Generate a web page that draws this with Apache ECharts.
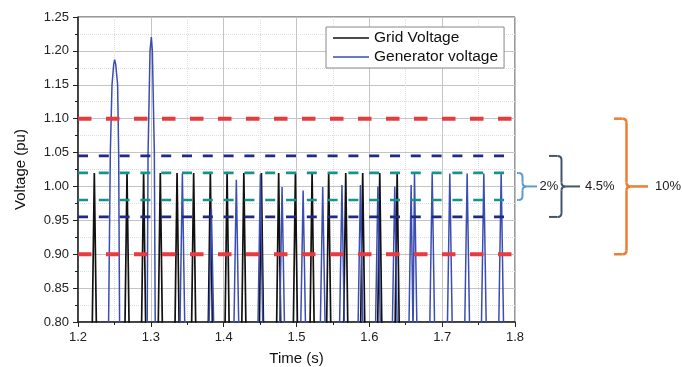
<!DOCTYPE html>
<html>
<head>
<meta charset="utf-8">
<title>Grid and generator voltage</title>
<script src="https://cdn.jsdelivr.net/npm/echarts@6/dist/echarts.min.js"></script>
<style>
  html, body { margin: 0; padding: 0; background: #fff; }
  #chart { width: 682px; height: 367px; }
</style>
</head>
<body>
<div id="chart"></div>
<script>
// [time (s), voltage (pu)] - samples below 0.80 fall off the plot
const gridVoltage = [
  [1.2194, 0.78], [1.2224, 1.02], [1.2254, 0.78],
  [1.2643, 0.78], [1.2673, 1.02], [1.2703, 0.78],
  [1.2871, 0.78], [1.2901, 1.02], [1.2931, 0.78],
  [1.3100, 0.78], [1.3130, 1.02], [1.3160, 0.78],
  [1.3330, 0.78], [1.3360, 1.02], [1.3390, 0.78],
  [1.3558, 0.78], [1.3588, 1.02], [1.3618, 0.78],
  [1.3787, 0.78], [1.3817, 1.02], [1.3847, 0.78],
  [1.4017, 0.78], [1.4047, 1.02], [1.4077, 0.78],
  [1.4247, 0.78], [1.4277, 1.02], [1.4307, 0.78],
  [1.4488, 0.78], [1.4518, 1.02], [1.4548, 0.78],
  [1.4725, 0.78], [1.4755, 1.02], [1.4785, 0.78],
  [1.4955, 0.78], [1.4985, 1.02], [1.5015, 0.78],
  [1.5184, 0.78], [1.5214, 1.02], [1.5244, 0.78],
  [1.5412, 0.78], [1.5442, 1.02], [1.5472, 0.78],
  [1.5646, 0.78], [1.5676, 1.02], [1.5706, 0.78],
  [1.5879, 0.78], [1.5909, 1.02], [1.5939, 0.78],
  [1.6113, 0.78], [1.6143, 1.02], [1.6173, 0.78],
  [1.6352, 0.78], [1.6382, 1.02], [1.6412, 0.78]
]

const generatorVoltage = [
  [1.2412, 0.78], [1.2420, 0.80], [1.2444, 1.05], [1.2467, 1.15], [1.2490, 1.18], [1.2503, 1.187],
  [1.2518, 1.18], [1.2544, 1.15], [1.2558, 1.05], [1.2571, 0.80], [1.2578, 0.78],
  [1.2944, 0.78], [1.2950, 0.80], [1.2962, 1.05], [1.2980, 1.15], [1.2989, 1.20], [1.3007, 1.2205],
  [1.3021, 1.20], [1.3030, 1.15], [1.3048, 1.05], [1.3060, 0.80], [1.3066, 0.78],
  [1.3398, 0.78], [1.3433, 1.019], [1.3468, 0.78],
  [1.3796, 0.78], [1.3831, 0.967], [1.3866, 0.78],
  [1.4139, 0.78], [1.4174, 1.010], [1.4209, 0.78],
  [1.4469, 0.78], [1.4504, 1.018], [1.4539, 0.78],
  [1.4767, 0.78], [1.4802, 0.999], [1.4837, 0.78],
  [1.5056, 0.78], [1.5091, 0.994], [1.5126, 0.78],
  [1.5325, 0.78], [1.5360, 0.999], [1.5395, 0.78],
  [1.5589, 0.78], [1.5624, 1.002], [1.5659, 0.78],
  [1.5843, 0.78], [1.5878, 1.002], [1.5913, 0.78],
  [1.6083, 0.78], [1.6118, 1.000], [1.6153, 0.78],
  [1.6314, 0.78], [1.6349, 1.000], [1.6384, 0.78],
  [1.6542, 0.78], [1.6574, 1.002], [1.6600, 0.78],
  [1.6602, 0.78], [1.6620, 1.019], [1.6655, 0.78],
  [1.6828, 0.78], [1.6863, 1.019], [1.6898, 0.78],
  [1.7070, 0.78], [1.7105, 1.019], [1.7140, 0.78],
  [1.7308, 0.78], [1.7343, 1.019], [1.7378, 0.78],
  [1.7537, 0.78], [1.7572, 1.019], [1.7607, 0.78],
  [1.7775, 0.78], [1.7810, 1.019], [1.7845, 0.78]
]

// tolerance bands (pu): upper, lower
const band10 = [1.10, 0.90]
const band45 = [1.045, 0.955]
const band2 = [1.02, 0.98]
const bandLabels = ['2%', '4.5%', '10%']
const bandStart = 1.2
const bandEnd10 = 1.796
const bandEnd = 1.787

const xMin = 1.2, xMax = 1.8, xStep = 0.1
const yMin = 0.80, yMax = 1.25, yStep = 0.05

const font = 'Liberation Sans, Arial, sans-serif'

function limitSeries(levels, end, color, width, dash) {
  return levels.map(v => ({
    type: 'line',
    data: [[bandStart, v], [end, v]],
    symbol: 'none',
    silent: true,
    lineStyle: { color, width, type: dash },
    z: 3
  }))
}

const option = {
  animation: false,
  textStyle: { fontFamily: font },
  grid: {
    left: 78, right: 167, top: 17, bottom: 45,
    outerBoundsMode: 'none',
    show: true, borderColor: '#333', borderWidth: 1
  },
  legend: {
    data: ['Grid Voltage', 'Generator voltage'],
    orient: 'vertical',
    left: 326, top: 27,
    padding: [3, 6, 3, 7],
    itemGap: 3,
    icon: 'rect',
    itemWidth: 36, itemHeight: 1.5,
    backgroundColor: '#fff',
    borderColor: '#888', borderWidth: 1,
    textStyle: { fontSize: 15.5, lineHeight: 16, color: '#111', fontFamily: font }
  },
  xAxis: {
    type: 'value',
    min: xMin, max: xMax, interval: xStep,
    name: 'Time (s)', nameLocation: 'middle', nameGap: 29,
    nameTextStyle: { fontSize: 15, color: '#111' },
    axisLine: { onZero: false, lineStyle: { color: '#222', width: 1.5 } },
    axisTick: { length: 5, lineStyle: { color: '#222' } },
    minorTick: { show: true, splitNumber: 2, length: 3, lineStyle: { color: '#222' } },
    axisLabel: { fontSize: 13, color: '#222', margin: 9, formatter: v => v.toFixed(1) },
    splitLine: { lineStyle: { color: '#c4c4c4' } },
    minorSplitLine: { show: true, lineStyle: { color: '#dedede', type: 'dotted' } }
  },
  yAxis: {
    type: 'value',
    min: yMin, max: yMax, interval: yStep,
    name: 'Voltage (pu)', nameLocation: 'middle', nameGap: 50,
    nameTextStyle: { fontSize: 15, color: '#111' },
    axisLine: { show: true, lineStyle: { color: '#222', width: 1.5 } },
    axisTick: { show: true, length: 5, lineStyle: { color: '#222' } },
    minorTick: { show: true, splitNumber: 2, length: 3, lineStyle: { color: '#222' } },
    axisLabel: { fontSize: 13, color: '#222', margin: 9, formatter: v => v.toFixed(2) },
    splitLine: { lineStyle: { color: '#c4c4c4' } },
    minorSplitLine: { show: true, lineStyle: { color: '#dedede', type: 'dotted' } }
  },
  series: [
    {
      name: 'Grid Voltage',
      type: 'line',
      data: gridVoltage,
      symbol: 'none',
      color: '#111',
      lineStyle: { color: '#111', width: 1.7 }
    },
    {
      name: 'Generator voltage',
      type: 'line',
      data: generatorVoltage,
      symbol: 'none',
      color: '#3a4db2',
      lineStyle: { color: '#3a4db2', width: 1.5 }
    },
    ...limitSeries(band10, bandEnd10, '#e63b3f', 4, [13.5, 14.5]),
    ...limitSeries(band45, bandEnd, '#1f2a86', 2.7, [10, 10.8]),
    ...limitSeries(band2, bandEnd, '#17938b', 2.7, [10, 10.8])
  ]
}

const chart = echarts.init(document.getElementById('chart'))
chart.setOption(option)

// curly brackets to the right of the plot
const yPx = v => chart.convertToPixel({ gridIndex: 0 }, [xMax, v])[1]

function brace(xl, xs, xn, top, bottom, color, width) {
  const r = 4
  const y1 = yPx(top), y2 = yPx(bottom), ym = yPx(1.0)
  const style = { stroke: color, lineWidth: width, fill: null }
  const line = (x1, ya, x2, yb) => ({ type: 'line', shape: { x1, y1: ya, x2, y2: yb }, style })
  const curve = (x1, ya, cx, cy, x2, yb) => ({
    type: 'bezierCurve', shape: { x1, y1: ya, cpx1: cx, cpy1: cy, x2, y2: yb }, style
  })
  return [
    line(xl, y1, xs - r, y1),
    curve(xs - r, y1, xs, y1, xs, y1 + r),
    line(xs, y1 + r, xs, ym - r),
    curve(xs, ym - r, xs, ym, xs + r, ym),
    line(xs + r, ym, xn, ym),
    curve(xs + r, ym, xs, ym, xs, ym + r),
    line(xs, ym + r, xs, y2 - r),
    curve(xs, y2 - r, xs, y2, xs - r, y2),
    line(xs - r, y2, xl, y2)
  ]
}

function label(text, x) {
  return {
    type: 'text',
    style: { text, x, y: yPx(1.0), fill: '#222', font: '13px ' + font, verticalAlign: 'middle' }
  }
}

chart.setOption({
  graphic: [
    ...brace(517, 522.5, 537, band2[0], band2[1], '#5b9bd5', 2),
    ...brace(549, 561.5, 580, band45[0], band45[1], '#44546a', 2),
    ...brace(614, 626.5, 648, band10[0], band10[1], '#ed7d31', 2.5),
    label(bandLabels[0], 539.5),
    label(bandLabels[1], 585),
    label(bandLabels[2], 655)
  ]
})
</script>
</body>
</html>
